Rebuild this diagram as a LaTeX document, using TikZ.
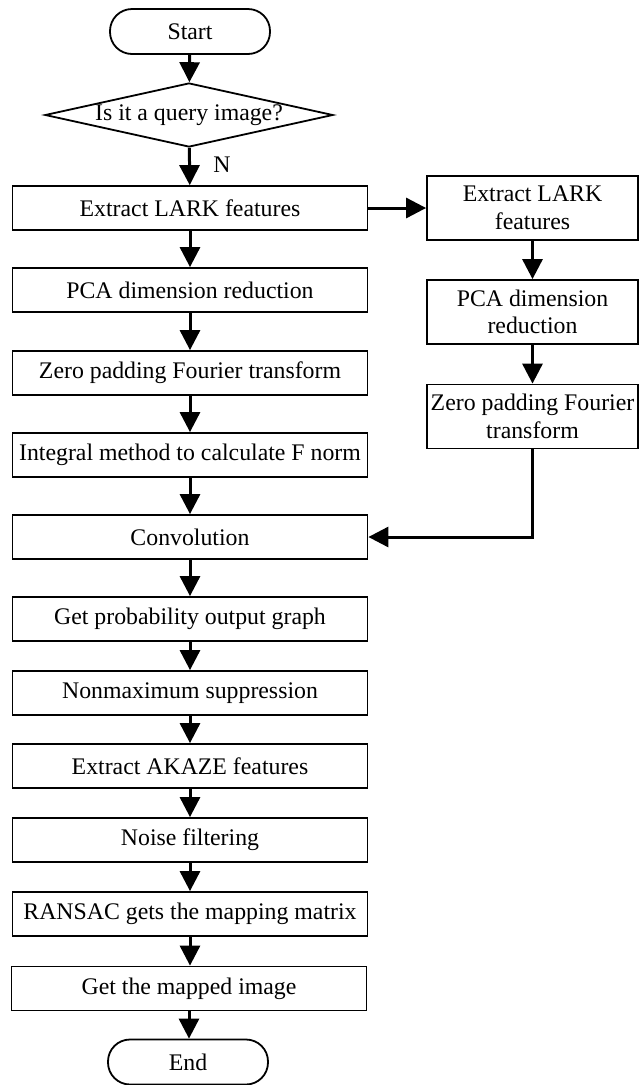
\documentclass[tikz,border=0pt]{standalone}
\usepackage{fontspec}
\setmainfont{Liberation Serif}
\usetikzlibrary{arrows.meta,shapes.geometric}
\begin{document}
\begin{tikzpicture}[x=1pt,y=-1pt,
  font=\fontsize{23.8}{27.5}\selectfont,
  box/.style={draw, line width=1.8pt, minimum width=355pt, minimum height=44pt, inner sep=0pt},
  rbox/.style={draw, line width=1.8pt, minimum width=211pt, minimum height=64pt, inner sep=0pt, align=center},
  term/.style={draw, line width=1.8pt, rounded corners=22pt, minimum width=160pt, minimum height=45pt, inner sep=0pt},
  dec/.style={draw, diamond, aspect=4.5, line width=1.8pt, minimum width=288pt, minimum height=64pt, inner sep=0pt},
  arr/.style={line width=3pt, -{Triangle[width=20pt,length=20pt]}}]
\useasboundingbox (0,0) rectangle (639,1085);
\node[term] (start) at (190,31.5) {Start};
\node[dec] (q) at (189,115) {Is it a query image?};
\node (n) at (222,165) {N};
\node[box] (b1) at (190,208) {Extract LARK features};
\node[box] (b2) at (190,290) {PCA dimension reduction};
\node[box] (b3) at (190,373) {Zero padding Fourier transform};
\node[box] (b4) at (190,455) {Integral method to calculate F norm};
\node[box] (b5) at (190,537) {Convolution};
\node[box] (b6) at (190,619) {Get probability output graph};
\node[box] (b7) at (190,693) {Nonmaximum suppression};
\node[box] (b8) at (190,766) {Extract AKAZE features};
\node[box] (b9) at (190,840) {Noise filtering};
\node[box] (b10) at (190,914) {RANSAC gets the mapping matrix};
\node[box] (b11) at (189,988.5) {Get the mapped image};
\node[term] (end) at (188,1062) {End};
\node[rbox] (r1) at (532.5,208) {Extract LARK\\features};
\node[rbox] (r2) at (532.5,312) {PCA dimension\\reduction};
\node[rbox] (r3) at (532.5,416.5) {Zero padding Fourier\\transform};
\draw[arr] (start) -- (q);
\draw[arr] (q) -- (b1);
\draw[arr] (b1) -- (b2);
\draw[arr] (b2) -- (b3);
\draw[arr] (b3) -- (b4);
\draw[arr] (b4) -- (b5);
\draw[arr] (b5) -- (b6);
\draw[arr] (b6) -- (b7);
\draw[arr] (b7) -- (b8);
\draw[arr] (b8) -- (b9);
\draw[arr] (b9) -- (b10);
\draw[arr] (b10.south) -- (b10.south |- b11.north);
\draw[arr] (b11.south) -- (b11.south |- end.north);
\draw[arr] (b1) -- (r1);
\draw[arr] (r1) -- (r2);
\draw[arr] (r2) -- (r3);
\draw[arr] (r3.south) |- (b5.east);
\end{tikzpicture}
\end{document}
